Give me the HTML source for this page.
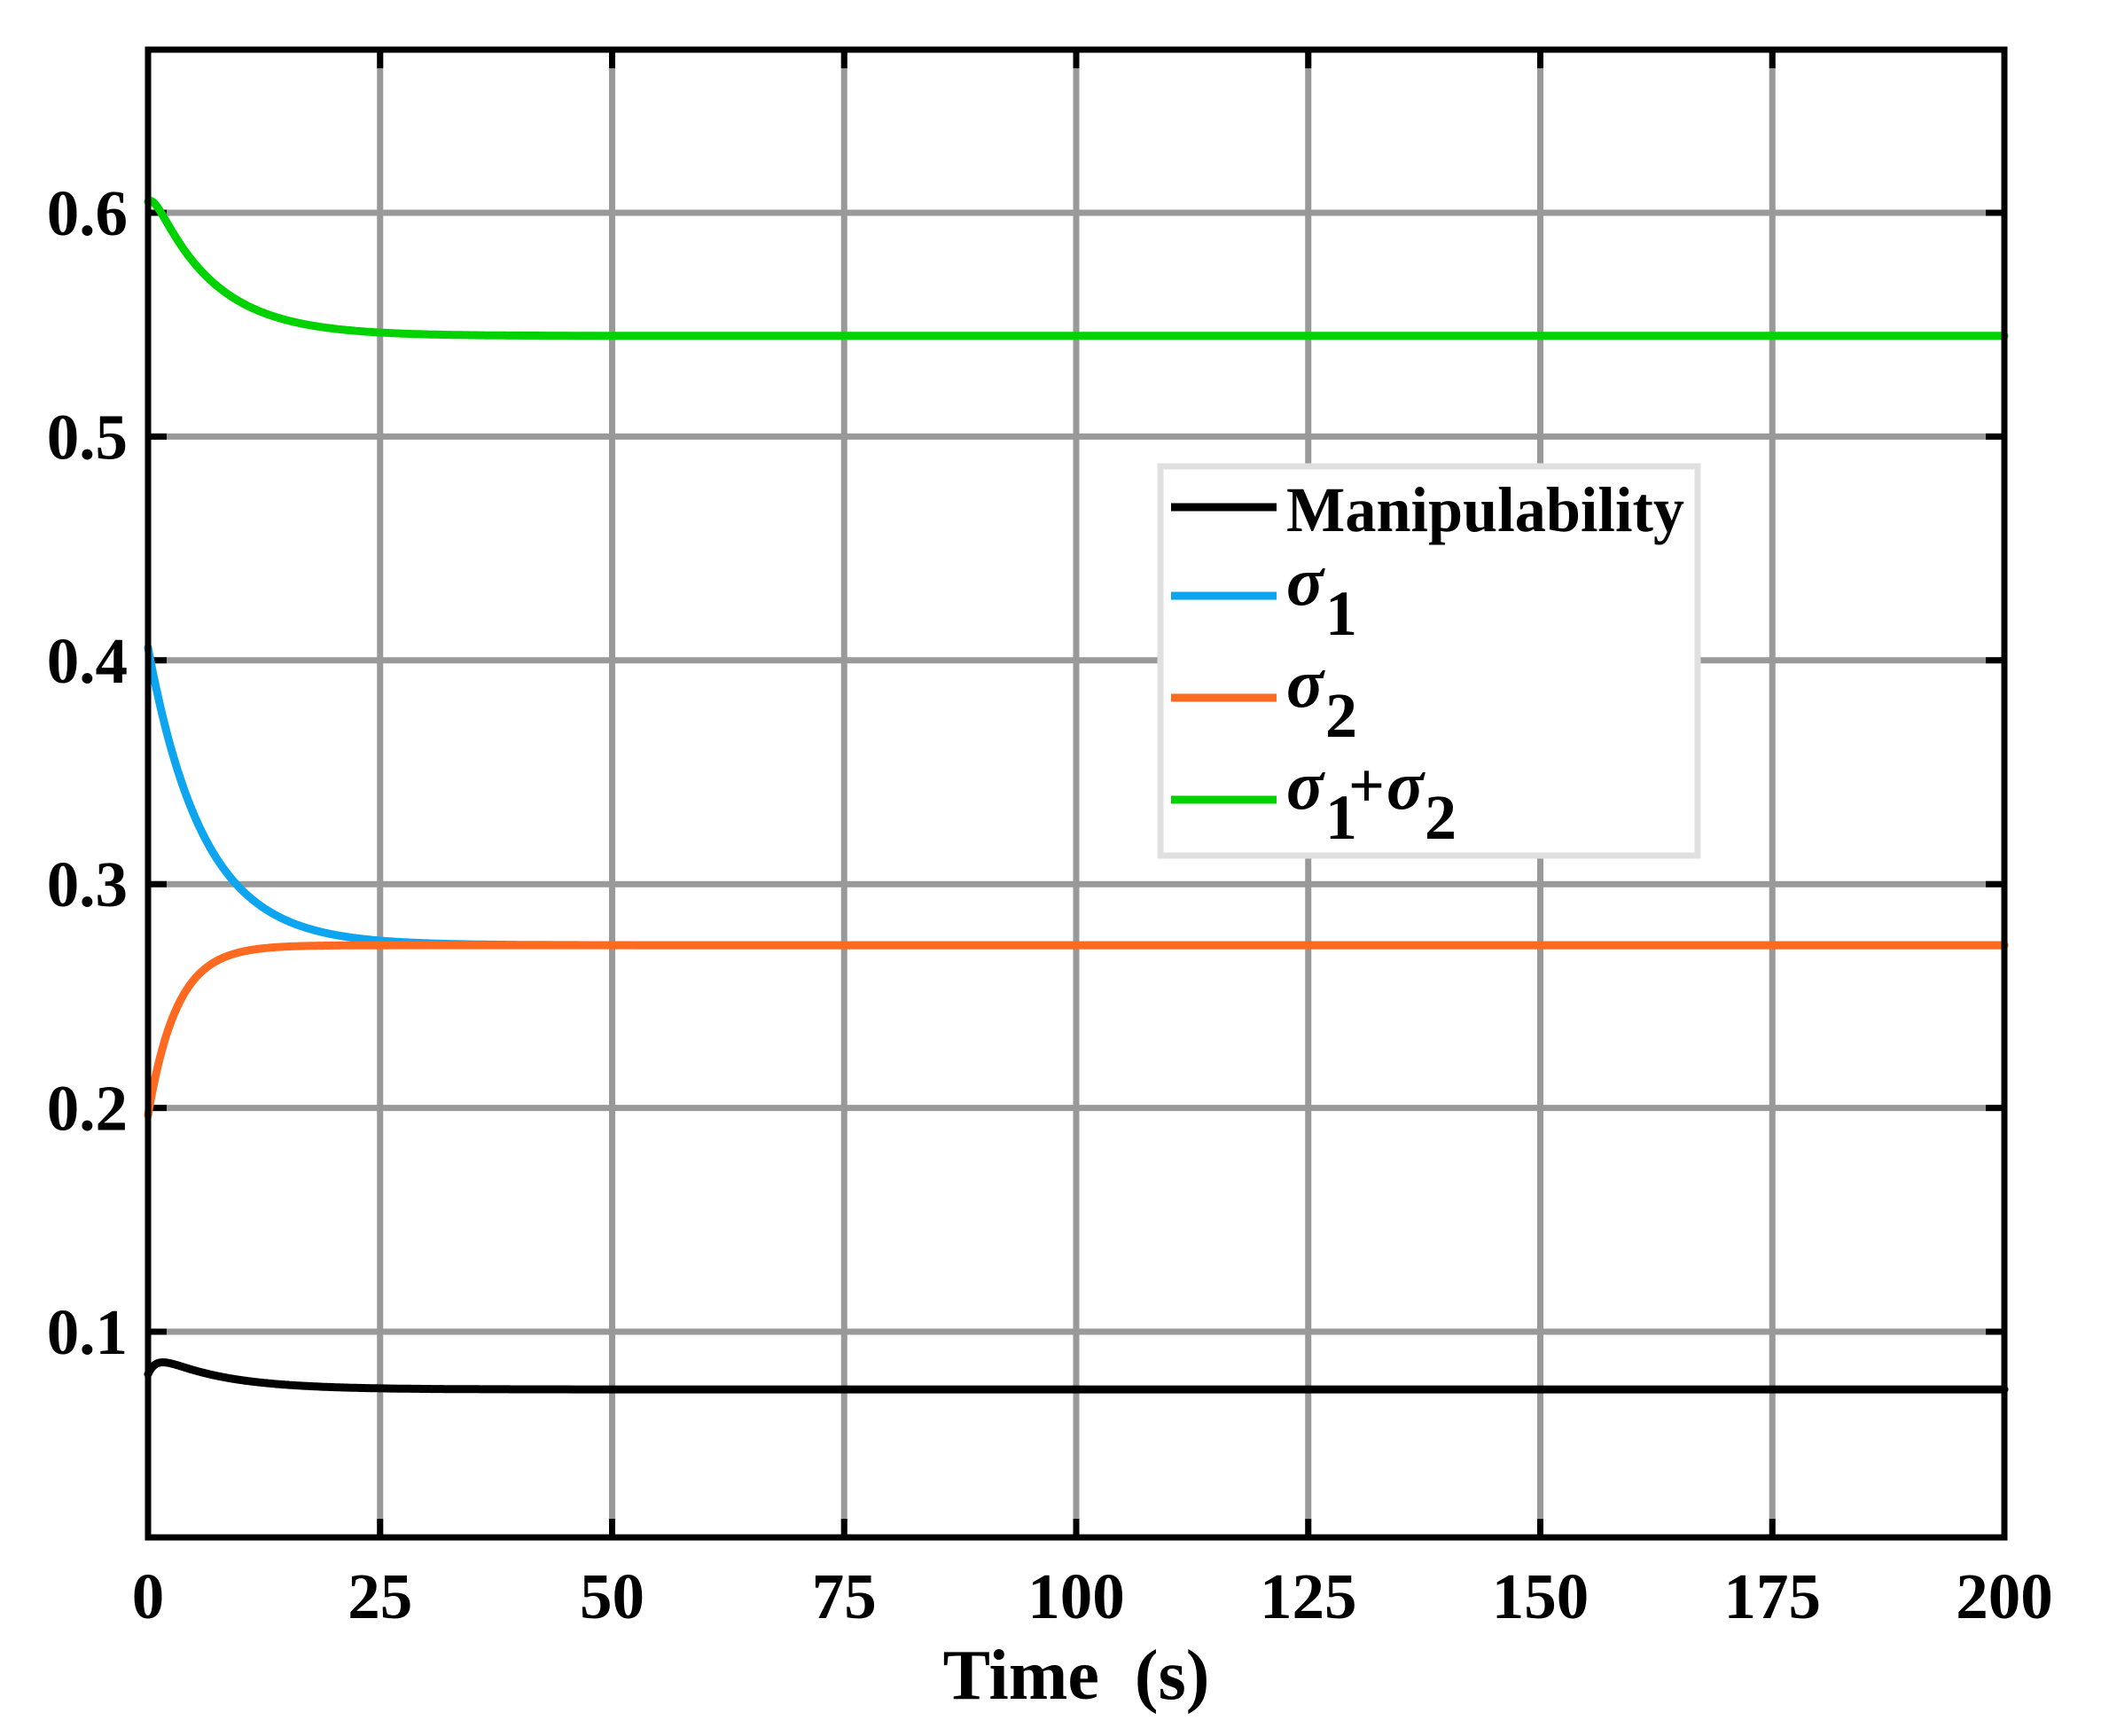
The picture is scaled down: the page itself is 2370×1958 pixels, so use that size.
<!DOCTYPE html>
<html><head><meta charset="utf-8"><style>
html,body{margin:0;padding:0;background:#fff;}
svg{display:block;}
text{font-family:"Liberation Serif",serif;font-weight:bold;fill:#000;}
</style></head><body>
<svg id="s" width="2370" height="1958" viewBox="0 0 2370 1958" xmlns="http://www.w3.org/2000/svg">
<g id="grid" stroke="#999" stroke-width="7"></g>
<g id="ticks" stroke="#000" stroke-width="7"></g>
<g id="curves" fill="none" stroke-width="9" stroke-linejoin="round" stroke-linecap="round"></g>
<rect x="167" y="56" width="2094" height="1678" fill="none" stroke="#000" stroke-width="7"/>
<g id="labels" font-size="73"></g>
<text x="1214" y="1916" font-size="80" text-anchor="middle" xml:space="preserve">Time  (s)</text>
<rect x="1309" y="526" width="606" height="439" fill="#fff" stroke="#e0e0e0" stroke-width="7"/>
<line x1="1321" y1="572" x2="1440" y2="572" stroke="#000" stroke-width="9"/>
<line x1="1321" y1="672" x2="1440" y2="672" stroke="#0ea5f0" stroke-width="9"/>
<line x1="1321" y1="787" x2="1440" y2="787" stroke="#ff6a20" stroke-width="9"/>
<line x1="1321" y1="902" x2="1440" y2="902" stroke="#00d200" stroke-width="9"/>
<text x="1451" y="599" font-size="72" textLength="449" lengthAdjust="spacingAndGlyphs">Manipulability</text>
<text x="1451" y="682" font-size="78" font-style="italic" font-weight="normal">σ</text>
<text x="1495" y="716" font-size="72">1</text>
<text x="1451" y="797" font-size="78" font-style="italic" font-weight="normal">σ</text>
<text x="1495" y="831" font-size="72">2</text>
<text x="1451" y="912" font-size="78" font-style="italic" font-weight="normal">σ</text>
<text x="1495" y="946" font-size="72">1</text>
<text x="1521" y="910" font-size="72">+</text>
<text x="1564" y="912" font-size="78" font-style="italic" font-weight="normal">σ</text>
<text x="1607" y="946" font-size="72">2</text>
</svg>
<script>
var L=167,R=2261,T=56,B=1734;
function X(t){return L+t*(R-L)/200;}
function Y(v){return 1502-(v-0.1)*2524;}
var ns="http://www.w3.org/2000/svg";
function el(p,n,a){var e=document.createElementNS(ns,n);for(var k in a)e.setAttribute(k,a[k]);document.getElementById(p).appendChild(e);return e;}
for(var i=1;i<8;i++){var x=X(25*i);el("grid","line",{x1:x,y1:T,x2:x,y2:B});
 el("ticks","line",{x1:x,y1:B,x2:x,y2:B-21});el("ticks","line",{x1:x,y1:T,x2:x,y2:T+21});}
for(var v=1;v<=6;v++){var y=Y(v/10);el("grid","line",{x1:L,y1:y,x2:R,y2:y});
 el("ticks","line",{x1:L,y1:y,x2:L+21,y2:y});el("ticks","line",{x1:R,y1:y,x2:R-21,y2:y});
 var t=el("labels","text",{x:144,y:y+25,"text-anchor":"end"});t.textContent="0."+v;}
for(var i=0;i<=8;i++){var t=el("labels","text",{x:X(25*i),y:1825,"text-anchor":"middle"});t.textContent=String(25*i);}
function path(f,col){var d="";var ts=[];for(var k=0;k<=400;k++)ts.push(k*0.1);for(var k=41;k<=200;k++)ts.push(k);
 ts.forEach(function(t){d+=(d?"L":"M")+X(t).toFixed(1)+","+Y(f(t)).toFixed(1);});
 el("curves","path",{d:d,stroke:col});}
path(function(t){return 0.0742+0.0175*(Math.exp(-t/7)-Math.exp(-t/0.9))+0.0068*Math.exp(-t/0.9);},"#000");
path(function(t){return 0.2727+0.133*Math.exp(-t/6);},"#0ea5f0");
path(function(t){return 0.2727-0.076*Math.exp(-t/3.1);},"#ff6a20");
path(function(t){return 0.545+0.07*Math.exp(-t/6.5)-0.01*Math.exp(-t/0.7);},"#00d200");
</script>
</body></html>
